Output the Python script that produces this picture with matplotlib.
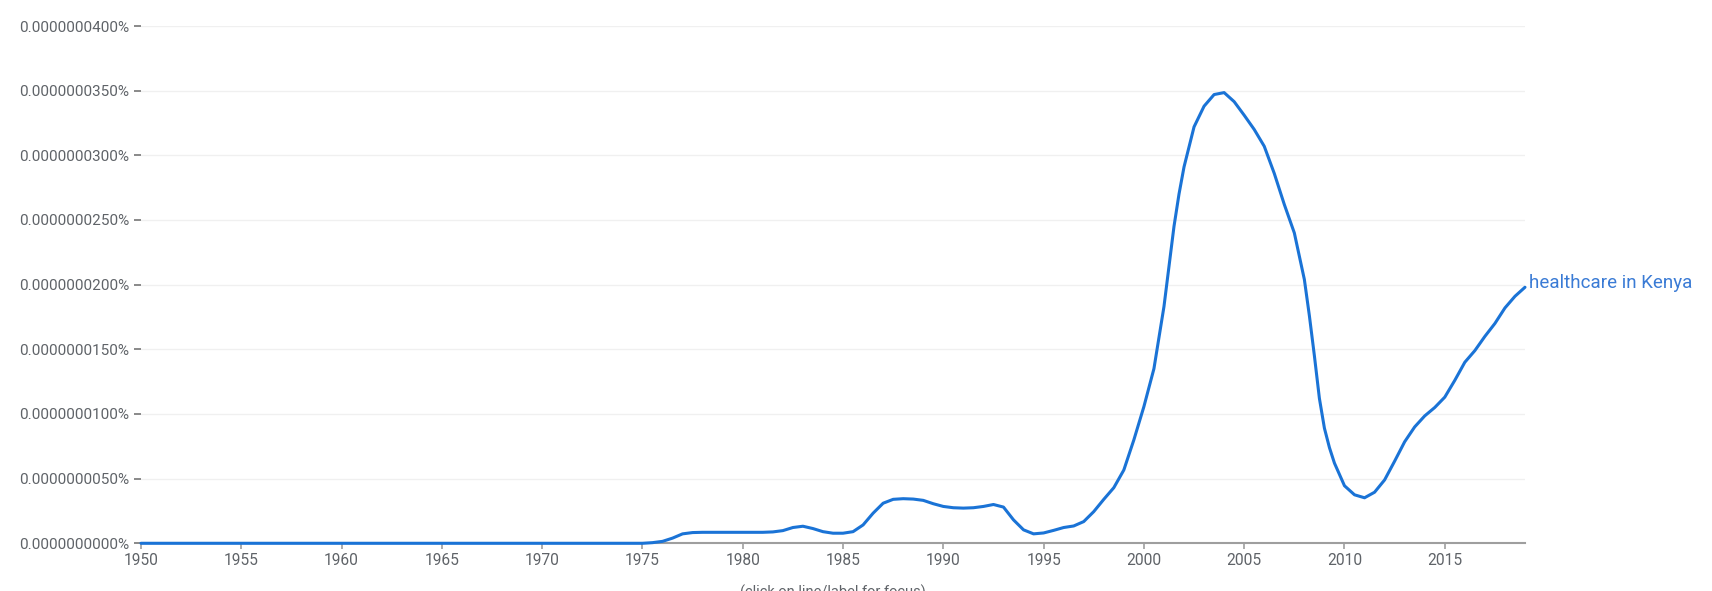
import matplotlib
matplotlib.use("Agg")
import matplotlib.pyplot as plt
from matplotlib.ticker import FixedLocator, FuncFormatter

plt.rcParams['font.family'] = ['Roboto', 'DejaVu Sans']

# ---- data (values in percent) ----
years = [1950, 1955, 1960, 1965, 1970, 1975, 1975.5, 1976, 1976.5, 1977, 1977.5,
         1978, 1979, 1980, 1981, 1981.5, 1982, 1982.5, 1983, 1983.5, 1984, 1984.5,
         1985, 1985.5, 1986, 1986.5, 1987, 1987.5, 1988, 1988.5, 1989, 1989.5,
         1990, 1990.5, 1991, 1991.5, 1992, 1992.5, 1993, 1993.5, 1994, 1994.5,
         1995, 1995.5, 1996, 1996.5, 1997, 1997.5, 1998, 1998.5, 1999, 1999.5,
         2000, 2000.5, 2001, 2001.25, 2001.5, 2001.75, 2002, 2002.5, 2003, 2003.5,
         2004, 2004.5, 2005, 2005.5, 2006, 2006.5, 2007, 2007.5, 2008, 2008.25,
         2008.5, 2008.75, 2009, 2009.25, 2009.5, 2010, 2010.5, 2011, 2011.5,
         2012, 2012.5, 2013, 2013.5, 2014, 2014.5,
         2015, 2015.5, 2016, 2016.5, 2017, 2017.5, 2018, 2018.5, 2019]
values_e9 = [0, 0, 0, 0, 0, 0, 0.05, 0.15, 0.4, 0.73, 0.83,
             0.85, 0.85, 0.85, 0.85, 0.88, 0.98, 1.22, 1.32, 1.14, 0.9, 0.78,
             0.78, 0.9, 1.42, 2.33, 3.1, 3.4, 3.45, 3.42, 3.32, 3.06,
             2.85, 2.75, 2.72, 2.75, 2.85, 3.0, 2.8, 1.81, 1.04, 0.73,
             0.8, 1.0, 1.22, 1.34, 1.68, 2.45, 3.4, 4.3, 5.67, 8.0,
             10.57, 13.5, 18.3, 21.4, 24.5, 27.0, 29.1, 32.2, 33.8, 34.7,
             34.85, 34.15, 33.1, 32.0, 30.7, 28.6, 26.2, 24.0, 20.4, 17.6,
             14.5, 11.2, 8.9, 7.4, 6.2, 4.45, 3.75, 3.52, 3.95,
             4.9, 6.35, 7.85, 9.0, 9.85, 10.5,
             11.3, 12.6, 14.0, 14.9, 16.0, 17.0, 18.2, 19.1, 19.8]
values = [v * 1e-9 for v in values_e9]
series_label = "healthcare in Kenya"
x_ticks = [1950, 1955, 1960, 1965, 1970, 1975, 1980, 1985, 1990, 1995, 2000, 2005, 2010, 2015]
y_ticks = [0, 5e-9, 10e-9, 15e-9, 20e-9, 25e-9, 30e-9, 35e-9, 40e-9]
footer = "(click on line/label for focus)"

LINE = '#1a73d6'
GRAY = '#5f6368'

fig = plt.figure(figsize=(17.12, 5.91), dpi=100)
ax = fig.add_axes([141/1712, 1 - 543.3/591, (1525 - 141)/1712, (543.3 - 26)/591])

ax.plot(years, values, color=LINE, lw=2.2, solid_joinstyle='round',
        solid_capstyle='round', clip_on=False, zorder=3)

ax.set_xlim(1950, 2019)
ax.set_ylim(0, 4e-8)
ax.xaxis.set_major_locator(FixedLocator(x_ticks))
ax.yaxis.set_major_locator(FixedLocator(y_ticks))
ax.yaxis.set_major_formatter(FuncFormatter(lambda v, p: f"{v:.10f}%"))

for s in ['top', 'right', 'left']:
    ax.spines[s].set_visible(False)
ax.spines['bottom'].set_color('#9e9e9e')
ax.spines['bottom'].set_linewidth(1.5)

ax.grid(axis='y', color='#f0f0f0', lw=1.0, zorder=0)
ax.set_axisbelow(True)

ax.tick_params(axis='y', length=5, width=1.2, color='#757575', pad=3.6,
               labelsize=11, labelcolor=GRAY)
ax.tick_params(axis='x', length=4, width=1.2, color='#9e9e9e', pad=3,
               labelsize=11.2, labelcolor=GRAY)

ax.annotate(series_label, xy=(years[-1], values[-1]), xytext=(3, 3),
            textcoords='offset points', color='#3a7bd5', fontsize=13.5,
            va='center', ha='left', annotation_clip=False)

fig.text(833/1712, 1 - 585/591, footer, ha='center', va='top',
         fontsize=10.5, color=GRAY)

fig.savefig('out.png', dpi=100, facecolor='white')
